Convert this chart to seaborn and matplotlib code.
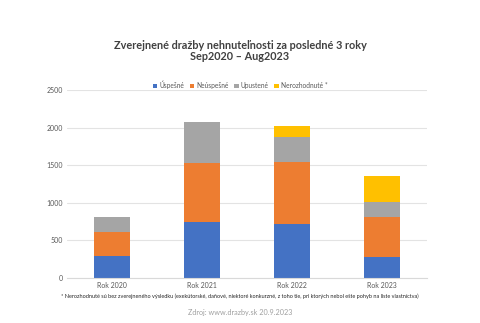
import matplotlib
matplotlib.use("Agg")
import matplotlib.pyplot as plt
import seaborn as sns
import numpy as np
import pandas as pd
from matplotlib.patches import Patch

categories = ["Rok 2020", "Rok 2021", "Rok 2022", "Rok 2023"]
uspesne = [290, 738, 712, 276]
neuspesne = [323, 795, 830, 529]
upustene = [196, 538, 334, 208]
nerozhodnute = [0, 0, 142, 343]

series_names = ["Úspešné", "Neúspešné", "Upustené", "Nerozhodnuté *"]
series_values = [uspesne, neuspesne, upustene, nerozhodnute]
colors = ["#4472C4", "#ED7D31", "#A5A5A5", "#FFC000"]

sns.set_theme(style="white")
plt.rcParams["font.family"] = ["Lato", "DejaVu Sans"]

fig = plt.figure(figsize=(4.8, 3.23), dpi=100)
ax = fig.add_axes([67 / 480, 1 - 277.7 / 323, 360 / 480, 187.7 / 323])

# cumulative totals, drawn from the top segment down so each lower segment covers the one above
cum = np.cumsum(np.array(series_values), axis=0)
for i in range(len(series_names) - 1, -1, -1):
    df = pd.DataFrame({"cat": categories, "val": cum[i]})
    sns.barplot(data=df, x="cat", y="val", color=colors[i], saturation=1,
                width=0.4, ax=ax, zorder=2, edgecolor="none")

ax.set_ylim(0, 2500)
ax.set_yticks([0, 500, 1000, 1500, 2000, 2500])
ax.set_xlim(-0.5, 3.5)
ax.yaxis.grid(True, color="#E3E3E3", linewidth=0.8, zorder=0)
ax.set_axisbelow(True)
for s in ["top", "right", "left"]:
    ax.spines[s].set_visible(False)
ax.spines["bottom"].set_color("#D9D9D9")
ax.spines["bottom"].set_linewidth(0.8)
ax.set_xlabel("")
ax.set_ylabel("")
ax.tick_params(axis="both", length=0, labelsize=5, colors="#595959", pad=3)

fig.text(0.5, 1 - 45.5 / 323, "Zverejnené dražby nehnuteľnosti za posledné 3 roky",
         ha="center", va="center", fontsize=7.8, fontweight="bold", color="#404040")
fig.text(0.5, 1 - 56.5 / 323, "Sep2020 – Aug2023",
         ha="center", va="center", fontsize=7.8, fontweight="bold", color="#404040")

handles = [Patch(facecolor=c, edgecolor="none") for c in colors]
fig.legend(handles, series_names, loc="center", bbox_to_anchor=(0.5, 1 - 85 / 323),
           ncol=4, frameon=False, fontsize=4.8, handlelength=0.7, handleheight=0.7,
           handletextpad=0.3, columnspacing=0.8, labelcolor="#595959")

fig.text(0.5, 1 - 296 / 323,
         "* Nerozhodnuté sú bez zverejneného výsledku (exekútorské, daňové, niektoré konkurzné, "
         "z toho tie, pri ktorých nebol ešte pohyb na liste vlastníctva)",
         ha="center", va="center", fontsize=4.0, color="#262626")
fig.text(0.5, 1 - 313 / 323, "Zdroj: www.drazby.sk 20.9.2023",
         ha="center", va="center", fontsize=5.2, color="#A0A0A0")

fig.savefig("out.png", dpi=100)
